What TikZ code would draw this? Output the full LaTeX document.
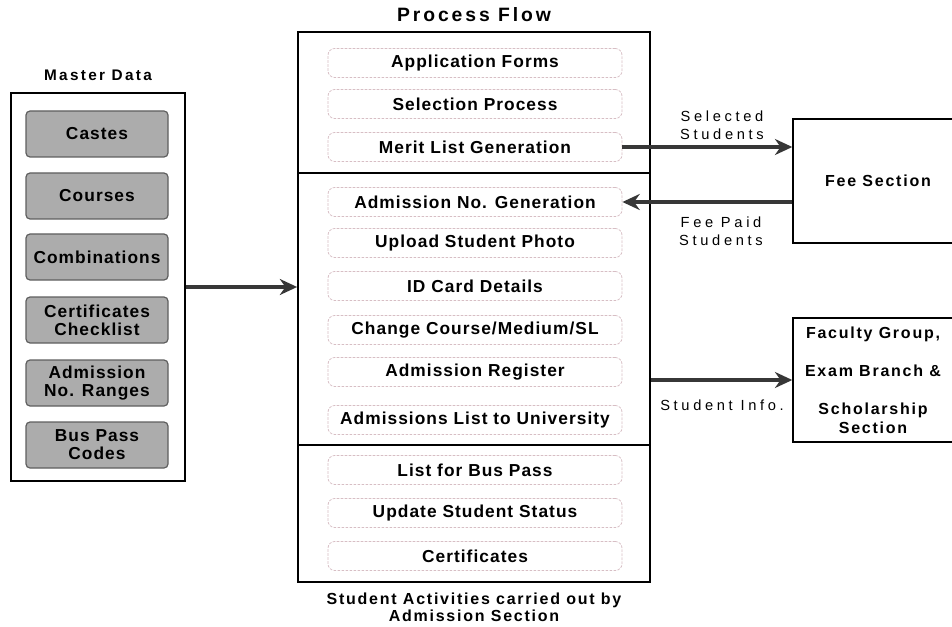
\documentclass[tikz,border=0pt]{standalone}
\usepackage{fontspec}
\setmainfont{Liberation Sans}
\newfontfamily\itemfont[LetterSpace=6]{Liberation Sans}
\newfontfamily\headfont[LetterSpace=15]{Liberation Sans}
\newfontfamily\labelfont[LetterSpace=25]{Liberation Sans}
\newfontfamily\sidefont[LetterSpace=11]{Liberation Sans}
\usetikzlibrary{arrows.meta}

\begin{document}
\begin{tikzpicture}[x=0.75pt,y=0.75pt,yscale=-1,xscale=1,
  outerbox/.style={draw, line width=1.3pt, inner sep=0pt},
  masteritem/.style={draw={rgb, 255:red, 95; green, 95; blue, 95}, fill={rgb, 255:red, 172; green, 172; blue, 172}, line width=0.9pt, rounded corners=3pt, minimum width=106.5pt, minimum height=34.5pt, inner sep=0.75pt, align=center, font=\itemfont\bfseries\fontsize{13}{13.5}\selectfont},
  activity/.style={draw={rgb, 255:red, 215; green, 190; blue, 196}, dash pattern=on 2pt off 1pt, line width=0.6pt, rounded corners=5pt, minimum width=220.5pt, minimum height=21.75pt, inner sep=0.75pt, font=\itemfont\bfseries\fontsize{13}{13.5}\selectfont},
  sidebox/.style={draw, line width=1.1pt, inner sep=0.75pt, align=center, font=\sidefont\bfseries\fontsize{12}{14}\selectfont},
  flowarrow/.style={-{Stealth[length=13pt, width=12pt]}, line width=2.5pt, draw={rgb, 255:red, 55; green, 55; blue, 55}},
  arrowlabel/.style={inner sep=0.75pt, align=center, font=\labelfont\fontsize{11}{13.5}\selectfont},
  titlefont/.style={inner sep=0.75pt, align=center, font=\headfont\bfseries\fontsize{11.5}{12}\selectfont}
]
\useasboundingbox (0,0) rectangle (952,627);

% Text Node
\node (mastertitle) at (98,75) [titlefont] {Master Data};
% Text Node
\node (flowtitle) at (474,15) [titlefont, font=\headfont\bfseries\fontsize{14.5}{16}\selectfont] {Process Flow};

%Shape: Rectangle
\node (master) at (98,287) [outerbox, minimum width=130.5pt, minimum height=291pt] {};
%Shape: Rectangle
\node (flow) at (474,307) [outerbox, minimum width=264pt, minimum height=412.5pt] {};
%Shape: Rectangle
\node (fee) at (878,181) [sidebox, minimum width=127.5pt, minimum height=93pt] {Fee Section};
%Shape: Rectangle
\node (faculty) at (873,380) [sidebox, minimum width=120pt, minimum height=93pt] {Faculty Group,\\[14.5pt]Exam Branch \&\\[14.5pt]Scholarship\\Section};

% Master data items
\node (castes) at (97,134) [masteritem] {Castes};
\node (courses) at (97,196) [masteritem] {Courses};
\node (combinations) at (97,257) [masteritem] {Combinations};
\node (checklist) at (97,320) [masteritem] {Certificates\\Checklist};
\node (ranges) at (97,383) [masteritem] {Admission\\No. Ranges};
\node (buscodes) at (97,445) [masteritem] {Bus Pass\\Codes};

% Process flow items
\node (appforms) at (475,63) [activity] {Application Forms};
\node (selection) at (475,104) [activity] {Selection Process};
\node (merit) at (475,147) [activity] {Merit List Generation};
\node (admno) at (475,202) [activity] {Admission No. Generation};
\node (photo) at (475,243) [activity] {Upload Student Photo};
\node (idcard) at (475,286) [activity] {ID Card Details};
\node (changecourse) at (475,330) [activity] {Change Course/Medium/SL};
\node (register) at (475,372) [activity] {Admission Register};
\node (unilist) at (475,420) [activity] {Admissions List to University};
\node (buspass) at (475,470) [activity] {List for Bus Pass};
\node (status) at (475,513) [activity] {Update Student Status};
\node (certificates) at (475,556) [activity] {Certificates};

%Straight Lines
\coordinate (cuttop) at (474,173);
\coordinate (cutbottom) at (474,445);
\draw [line width=1.2pt] (flow.west |- cuttop) -- (flow.east |- cuttop);
\draw [line width=1.2pt] (flow.west |- cutbottom) -- (flow.east |- cutbottom);

%Straight Lines
\draw [flowarrow] (master.east) -- (master.east -| flow.west);
\draw [flowarrow] (merit.east) -- (merit.east -| fee.west);
\draw [flowarrow] (fee.west |- admno.east) -- (admno.east);
\coordinate (infolevel) at (700,380);
\draw [flowarrow] (flow.east |- infolevel) -- (faculty.west |- infolevel);

% Text Node
\node (selectedlbl) at (722,125) [arrowlabel] {Selected\\Students};
% Text Node
\node (feepaidlbl) at (721,231) [arrowlabel] {Fee Paid\\Students};
% Text Node
\node (infolbl) at (722,405) [arrowlabel] {Student Info.};
% Text Node
\node (caption) at (474,607) [inner sep=0.75pt, align=center, font=\sidefont\bfseries\fontsize{12}{13}\selectfont] {Student Activities carried out by\\Admission Section};

\end{tikzpicture}
\end{document}
